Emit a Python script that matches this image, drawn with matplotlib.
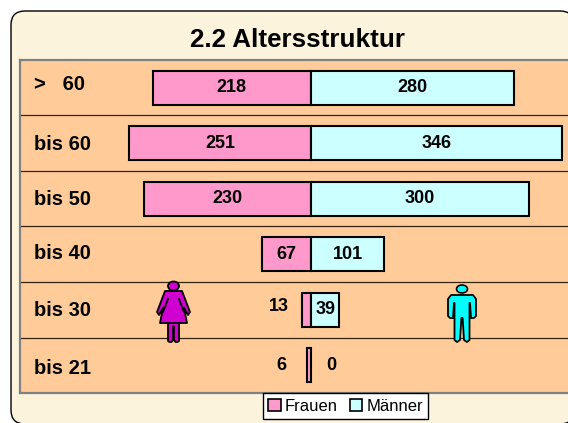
import matplotlib
matplotlib.use('Agg')
import matplotlib.pyplot as plt
from matplotlib.patches import FancyBboxPatch, Polygon, Ellipse, Patch

plt.rcParams['font.family'] = ['Liberation Sans', 'DejaVu Sans']

ages = ['>   60', 'bis 60', 'bis 50', 'bis 40', 'bis 30', 'bis 21']
frauen = [218, 251, 230, 67, 13, 6]
maenner = [280, 346, 300, 101, 39, 0]

W, H = 568, 423
PINK = '#FF99CC'
CYAN = '#CCFFFF'
PANEL = '#FFCC99'


def frame(x0, y0, x1, y1):
    # figure-pixel box to figure fraction
    return [x0 / W, 1 - y1 / H, (x1 - x0) / W, (y1 - y0) / H]


def woman(ax):
    col = '#D000D0'
    ax.add_patch(Ellipse((173.5, 286), 11, 9, fc=col, ec='k', lw=1.3))
    ax.add_patch(Polygon([(168, 341), (168, 322), (179, 322), (179, 341), (177.5, 342), (175.5, 342),
                          (174, 340), (173.7, 326), (173.3, 326), (173, 340), (171.5, 342), (169.5, 342)],
                         fc=col, ec='k', lw=1.3, joinstyle='round'))
    ax.add_patch(Polygon([(165, 291), (182, 291), (190, 312), (188, 315), (184, 308), (187, 323),
                          (160, 323), (163, 308), (159, 315), (157, 312)],
                         fc=col, ec='k', lw=1.3, joinstyle='round'))
    ax.plot([179, 184], [299, 312], color='k', lw=1.3)
    ax.plot([168, 163], [299, 312], color='k', lw=1.3)


def man(ax):
    col = '#00FFFF'
    ax.add_patch(Ellipse((462, 289), 11, 8, fc=col, ec='k', lw=1.2))
    ax.add_patch(Polygon([(451, 295), (473, 295), (476, 299), (476, 316), (474, 318), (471, 318),
                          (470, 303), (469.5, 303), (469.5, 340), (467, 342), (464, 340), (462.6, 318),
                          (461.4, 318), (460, 340), (457, 342), (454.5, 340), (454.5, 303), (454, 303),
                          (453, 318), (450, 318), (448, 316), (448, 299)],
                         fc=col, ec='k', lw=1.3, joinstyle='round'))


fig = plt.figure(figsize=(W / 100, H / 100), dpi=100, facecolor='white')

bg = fig.add_axes([0, 0, 1, 1], zorder=0)
bg.set_xlim(0, W)
bg.set_ylim(H, 0)
bg.axis('off')
bg.add_patch(FancyBboxPatch((25, 25), 535, 385, boxstyle='round,pad=14,rounding_size=14',
                            fc='#FCF3DC', ec='k', lw=1.0))
bg.text(297.5, 40, '2.2 Altersstruktur', fontsize=18.7, fontweight='bold', ha='center', va='center')

# bars: zero line sits at x=311, 0.726 px per person
SCALE = 0.726
ax = fig.add_axes(frame(20, 60, 568, 393), zorder=1)
ax.set_facecolor(PANEL)
ax.set_xlim((20 - 311) / SCALE, (568 - 311) / SCALE)
ax.set_ylim(len(ages) - 0.5, -0.5)
ypos = list(range(len(ages)))
ax.barh(ypos, [-v for v in frauen], height=0.62, color=PINK, edgecolor='k', linewidth=1.5, zorder=3)
ax.barh(ypos[:-1], maenner[:-1], height=0.62, color=CYAN, edgecolor='k', linewidth=1.5, zorder=3)

for y in ypos[:-1]:
    ax.axhline(y + 0.5, color='#332211', lw=0.9, zorder=1)
for side in ['top', 'bottom', 'left']:
    ax.spines[side].set_color('#808080')
    ax.spines[side].set_linewidth(1.6)
ax.spines['right'].set_visible(False)
ax.set_xticks([])
ax.set_yticks([])

label_dy = [-3.5, 1, 0.5, -1, 1, 3.5]
for y, age, dy in zip(ypos, ages, label_dy):
    ax.annotate(age, (0, y), xycoords=('axes fraction', 'data'), xytext=(14 * 0.72, -dy * 0.72),
                textcoords='offset points', fontsize=14.5, fontweight='bold', va='center', ha='left')

value_dy = [0, 0, -0.01, 0, -0.06, 0]
for y, f, m, dy in zip(ypos, frauen, maenner, value_dy):
    # small bars get their number beside the bar
    fx = -f / 2 if f > 30 else -38 - f * 0.46
    mx = m / 2 if m > 0 else 28
    ax.text(fx, y + dy, str(f), fontsize=13, fontweight='bold', ha='center', va='center', zorder=4)
    ax.text(mx, y, str(m), fontsize=13, fontweight='bold', ha='center', va='center', zorder=4)

handles = [Patch(fc=PINK, ec='k', lw=1.2), Patch(fc=CYAN, ec='k', lw=1.2)]
leg = fig.legend(handles, ['Frauen', 'Männer'], ncol=2, loc='center',
                 bbox_to_anchor=(345.5 / W, 1 - 406 / H), fontsize=12, frameon=True,
                 fancybox=False, edgecolor='k', facecolor='white', framealpha=1,
                 handlelength=0.75, handleheight=0.75, handletextpad=0.25, columnspacing=0.7,
                 borderpad=0.32, borderaxespad=0)
leg.get_frame().set_linewidth(1.0)
leg.set_zorder(5)

top = fig.add_axes([0, 0, 1, 1], zorder=2)
top.set_xlim(0, W)
top.set_ylim(H, 0)
top.axis('off')
woman(top)
man(top)

fig.savefig('out.png', dpi=100)
